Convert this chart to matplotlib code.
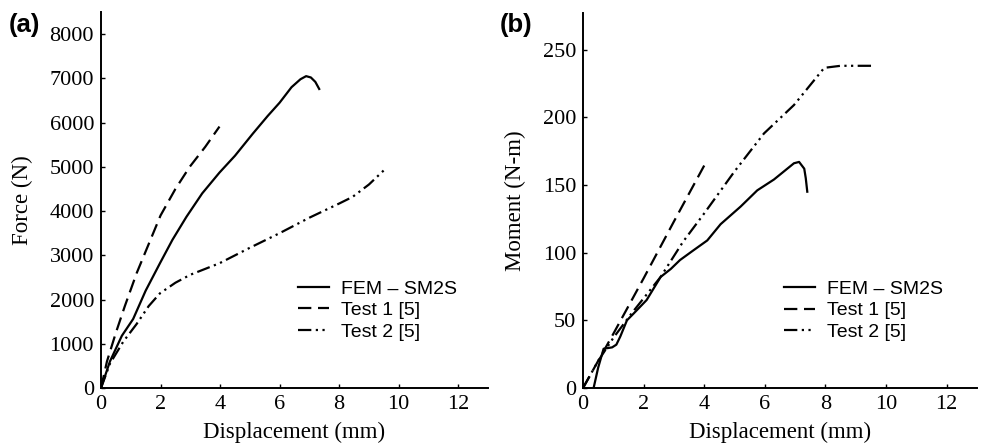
import matplotlib
matplotlib.use('Agg')
import matplotlib.pyplot as plt

# (a) force vs displacement
fem_a_x = [0, 0.3, 0.7, 1.08, 1.5, 1.98, 2.4, 2.87, 3.4, 3.98, 4.5, 5.1, 5.6, 6.0, 6.4, 6.7, 6.89, 7.05, 7.2, 7.33]
fem_a_y = [0, 600, 1180, 1560, 2200, 2820, 3350, 3870, 4400, 4870, 5250, 5750, 6150, 6450, 6800, 6980, 7050, 7020, 6920, 6760]
t1_a_x = [0, 0.2, 0.5, 0.8, 1.2, 1.6, 2.0, 2.5, 2.98, 3.5, 3.98]
t1_a_y = [0, 600, 1250, 1850, 2600, 3250, 3900, 4500, 5000, 5450, 5910]
t2_a_x = [0, 0.3, 0.75, 1.2, 1.6, 1.98, 2.5, 3.0, 3.98, 5.0, 6.0, 7.0, 8.0, 8.45, 9.0, 9.5]
t2_a_y = [0, 550, 1050, 1450, 1850, 2140, 2380, 2560, 2820, 3170, 3500, 3850, 4170, 4320, 4600, 4920]

# (b) moment vs displacement
fem_b_x = [0.35, 0.5, 0.68, 0.96, 1.1, 1.23, 1.45, 1.67, 2.1, 2.56, 2.9, 3.2, 3.6, 4.1, 4.54, 5.2, 5.75, 6.3, 6.96, 7.13, 7.3, 7.35, 7.4]
fem_b_y = [0, 15, 29, 30, 32, 38, 50, 55, 65, 82, 88, 94.5, 101, 109, 121, 134, 146, 154, 166, 167, 162, 155, 145]
t1_b_x = [0, 1.0, 2.0, 3.0, 4.04]
t1_b_y = [0, 40, 81, 123, 166]
t2_b_x = [0, 0.5, 1.0, 1.6, 2.56, 3.3, 4.0, 5.0, 5.97, 6.96, 7.96, 8.5, 9.6]
t2_b_y = [0, 20, 37, 55, 82, 108, 129, 160, 188, 209, 236.5, 238, 238]

labels = ['FEM \u2013 SM2S', 'Test 1 [5]', 'Test 2 [5]']
serif = ['Liberation Serif', 'DejaVu Serif']
sans = ['Liberation Sans', 'DejaVu Sans']

dash1 = (0, (6, 3))
dash2 = (0, (6, 2, 1, 2, 1, 2))

fig = plt.figure(figsize=(9.94, 4.46), dpi=100)
ax1 = fig.add_axes([101/994, 1-388/446, 387/994, 376/446])
ax2 = fig.add_axes([583/994, 1-388/446, 394/994, 375/446])

panels = [
    (ax1, fem_a_x, fem_a_y, t1_a_x, t1_a_y, t2_a_x, t2_a_y, 'Force (N)', (0, 8500), range(0, 8001, 1000), '(a)'),
    (ax2, fem_b_x, fem_b_y, t1_b_x, t1_b_y, t2_b_x, t2_b_y, 'Moment (N-m)', (0, 277), range(0, 251, 50), '(b)'),
]

for ax, fx, fy, ax_, ay_, bx, by, ylab, ylim, yt, tag in panels:
    ax.plot(fx, fy, color='black', lw=1.6, label=labels[0])
    ax.plot(ax_, ay_, color='black', lw=1.6, linestyle=dash1, label=labels[1])
    ax.plot(bx, by, color='black', lw=1.6, linestyle=dash2, label=labels[2])
    ax.set_xlim(0, 13)
    ax.set_ylim(*ylim)
    ax.set_xticks(range(0, 13, 2))
    ax.set_yticks(list(yt))
    ax.spines['top'].set_visible(False)
    ax.spines['right'].set_visible(False)
    ax.spines['left'].set_linewidth(1.4)
    ax.spines['bottom'].set_linewidth(1.4)
    ax.tick_params(direction='in', length=3, width=1, labelsize=16, pad=5)
    for t in ax.get_xticklabels() + ax.get_yticklabels():
        t.set_family(serif)
    ax.set_xlabel('Displacement (mm)', fontsize=16.5, family=serif, labelpad=6)
    ax.set_ylabel(ylab, fontsize=16.5, family=serif, labelpad=12)
    leg = ax.legend(loc='upper left', bbox_to_anchor=(0.51, 0.287), frameon=False,
                    prop={'family': sans, 'size': 14}, handlelength=1.6,
                    handletextpad=0.6, labelspacing=0.2, borderpad=0, borderaxespad=0)

fig.text(9/994, 1-25/446, '(a)', fontsize=18.5, fontweight='bold', family=sans, va='center')
fig.text(500/994, 1-25/446, '(b)', fontsize=18.5, fontweight='bold', family=sans, va='center')

fig.savefig('out.png', dpi=100)
